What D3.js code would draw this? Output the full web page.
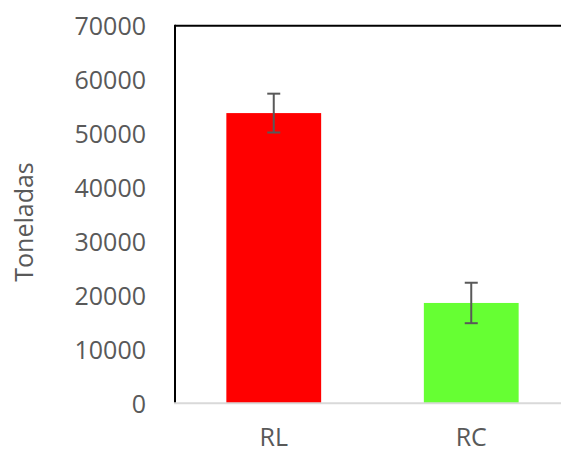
<!DOCTYPE html>
<html>
<head>
<meta charset="utf-8">
<script src="https://cdn.jsdelivr.net/npm/d3@7"></script>
<style>
  html, body { margin: 0; padding: 0; background: #fff; }
  svg { display: block; }
  text { font-family: "Open Sans", sans-serif; fill: #595959; }
</style>
</head>
<body>
<svg id="chart" width="561" height="454"></svg>
<script>
const categories = ["RL", "RC"];
const values = [53800, 18600];
const errors = [3600, 3750];
const colors = ["#FF0000", "#66FF33"];
const yTicks = [0, 10000, 20000, 30000, 40000, 50000, 60000, 70000];
const yTitle = "Toneladas";

(function () {
const svg = d3.select("#chart");
const pLeft = 175, pRight = 570, pTop = 25.7, pBottom = 403.3;

const x = d3.scaleBand().domain(categories).range([pLeft, pRight])
  .paddingInner(0.52).paddingOuter(0.26);
const y = d3.scaleLinear().domain([0, 70000]).range([pBottom, pTop]);

// bars
svg.selectAll("rect.bar").data(values).enter().append("rect")
  .attr("class", "bar")
  .attr("x", (d, i) => x(categories[i]))
  .attr("width", x.bandwidth())
  .attr("y", d => y(d))
  .attr("height", d => y(0) - y(d))
  .attr("fill", (d, i) => colors[i]);

// error bars
const eb = svg.selectAll("g.err").data(values).enter().append("g").attr("class", "err")
  .attr("stroke", "#595959").attr("stroke-width", 2);
eb.append("line")
  .attr("x1", (d, i) => x(categories[i]) + x.bandwidth() / 2)
  .attr("x2", (d, i) => x(categories[i]) + x.bandwidth() / 2)
  .attr("y1", (d, i) => y(d + errors[i]))
  .attr("y2", (d, i) => y(d - errors[i]));
[1, -1].forEach(s => {
  eb.append("line")
    .attr("x1", (d, i) => x(categories[i]) + x.bandwidth() / 2 - 6.5)
    .attr("x2", (d, i) => x(categories[i]) + x.bandwidth() / 2 + 6.5)
    .attr("y1", (d, i) => y(d + s * errors[i]))
    .attr("y2", (d, i) => y(d + s * errors[i]));
});

// frame: top and left black lines
svg.append("line").attr("x1", pLeft).attr("x2", 600).attr("y1", pTop).attr("y2", pTop)
  .attr("stroke", "#000").attr("stroke-width", 2);
svg.append("line").attr("x1", pLeft).attr("x2", pLeft).attr("y1", pTop - 1).attr("y2", pBottom)
  .attr("stroke", "#000").attr("stroke-width", 2);
// bottom axis (gray)
svg.append("line").attr("x1", pLeft - 1).attr("x2", 600).attr("y1", pBottom).attr("y2", pBottom)
  .attr("stroke", "#d9d9d9").attr("stroke-width", 2);

// y axis labels
const yAxis = d3.axisLeft(y).tickValues(yTicks).tickSize(0).tickPadding(0)
  .tickFormat(d3.format("d"));
const gy = svg.append("g").attr("transform", `translate(146,0)`).call(yAxis);
gy.select(".domain").remove();
gy.selectAll("text").attr("font-size", 25).attr("font-family", "Open Sans, sans-serif")
  .attr("fill", "#595959").attr("dy", "0.35em");

// x axis labels
const xAxis = d3.axisBottom(x).tickSize(0).tickPadding(0);
const gx = svg.append("g").attr("transform", `translate(0,${pBottom})`).call(xAxis);
gx.select(".domain").remove();
gx.selectAll("text").attr("font-size", 25).attr("font-family", "Open Sans, sans-serif")
  .attr("fill", "#595959").attr("dy", null).attr("y", 43);

// y title
svg.append("text")
  .attr("transform", `translate(33,222) rotate(-90)`)
  .attr("text-anchor", "middle")
  .attr("font-size", 25)
  .text(yTitle);
})();
</script>
</body>
</html>
